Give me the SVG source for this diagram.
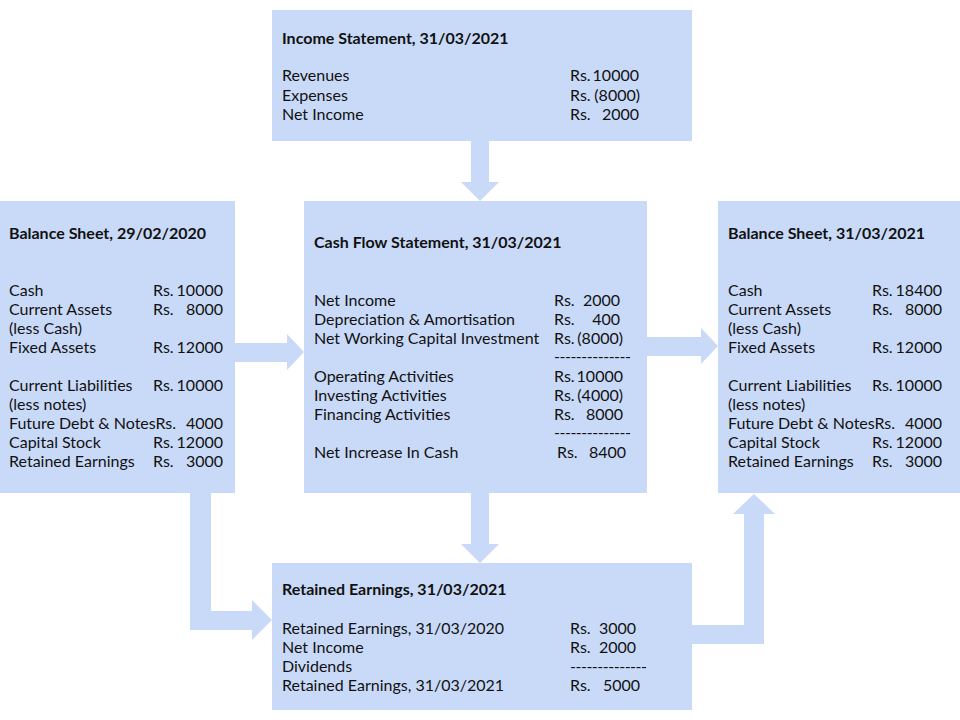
<svg xmlns="http://www.w3.org/2000/svg" width="960" height="720" viewBox="0 0 960 720">
<style>
.box{fill:#c9daf8;}
.arr{fill:#c9daf8;}
text{font-family:Lato,"Open Sans","Liberation Sans",sans-serif;font-size:16px;fill:#111;}
.t{font-weight:bold;}
.r{text-anchor:end;}
</style>
<rect x="0" y="0" width="960" height="720" fill="#fff"/>
<g id="connectors">
<polygon class="arr" points="471,141 489,141 489,182 499,182 480,201 461,182 471,182"/>
<polygon class="arr" points="471,493 489,493 489,544 499,544 480,563 461,544 471,544"/>
<polygon class="arr" points="235,343 287,343 287,334 304,352 287,370 287,362 235,362"/>
<polygon class="arr" points="647,337 701,337 701,328 718,346 701,364 701,356 647,356"/>
<polygon class="arr" points="190,493 211,493 211,611 252,611 252,600 272,620 252,640 252,630 190,630"/>
<polygon class="arr" points="692,625 744,625 744,514 733,514 754,494 775,514 764,514 764,644 692,644"/>
</g>
<g id="income">
<rect class="box" x="272" y="10" width="420" height="131"/>
<text class="t" x="282" y="44">Income Statement, 31/03/2021</text>
<text x="282" y="81">Revenues</text>
<text x="282" y="101">Expenses</text>
<text x="282" y="120">Net Income</text>
<text x="570" y="81">Rs.</text><text class="r" x="639" y="81">10000</text>
<text x="570" y="101">Rs.</text><text class="r" x="640" y="101">(8000)</text>
<text x="570" y="120">Rs.</text><text class="r" x="639" y="120">2000</text>
</g>
<g id="bs2020">
<rect class="box" x="0" y="201" width="235" height="292"/>
<text class="t" x="9" y="239">Balance Sheet, 29/02/2020</text>
<text x="9" y="296">Cash</text>
<text x="9" y="315">Current Assets</text>
<text x="9" y="334">(less Cash)</text>
<text x="9" y="353">Fixed Assets</text>
<text x="9" y="391">Current Liabilities</text>
<text x="9" y="410">(less notes)</text>
<text x="9" y="429">Future Debt &amp; NotesRs.</text>
<text x="9" y="448">Capital Stock</text>
<text x="9" y="467">Retained Earnings</text>
<text x="153" y="296">Rs.</text><text class="r" x="223" y="296">10000</text>
<text x="153" y="315">Rs.</text><text class="r" x="223" y="315">8000</text>
<text x="153" y="353">Rs.</text><text class="r" x="223" y="353">12000</text>
<text x="153" y="391">Rs.</text><text class="r" x="223" y="391">10000</text>
<text class="r" x="223" y="429">4000</text>
<text x="153" y="448">Rs.</text><text class="r" x="223" y="448">12000</text>
<text x="153" y="467">Rs.</text><text class="r" x="223" y="467">3000</text>
</g>
<g id="cashflow">
<rect class="box" x="304" y="201" width="343" height="292"/>
<text class="t" x="314" y="248">Cash Flow Statement, 31/03/2021</text>
<text x="314" y="306">Net Income</text>
<text x="314" y="325">Depreciation &amp; Amortisation</text>
<text x="314" y="344">Net Working Capital Investment</text>
<text x="554" y="362" textLength="77" lengthAdjust="spacing">--------------</text>
<text x="314" y="382">Operating Activities</text>
<text x="314" y="401">Investing Activities</text>
<text x="314" y="420">Financing Activities</text>
<text x="554" y="438" textLength="77" lengthAdjust="spacing">--------------</text>
<text x="314" y="458">Net Increase In Cash</text>
<text x="554" y="306">Rs.</text><text class="r" x="620" y="306">2000</text>
<text x="554" y="325">Rs.</text><text class="r" x="620" y="325">400</text>
<text x="554" y="344">Rs.</text><text class="r" x="623" y="344">(8000)</text>
<text x="554" y="382">Rs.</text><text class="r" x="623" y="382">10000</text>
<text x="554" y="401">Rs.</text><text class="r" x="623" y="401">(4000)</text>
<text x="554" y="420">Rs.</text><text class="r" x="623" y="420">8000</text>
<text x="557" y="458">Rs.</text><text class="r" x="626" y="458">8400</text>
</g>
<g id="bs2021">
<rect class="box" x="718" y="201" width="242" height="292"/>
<text class="t" x="728" y="239">Balance Sheet, 31/03/2021</text>
<text x="728" y="296">Cash</text>
<text x="728" y="315">Current Assets</text>
<text x="728" y="334">(less Cash)</text>
<text x="728" y="353">Fixed Assets</text>
<text x="728" y="391">Current Liabilities</text>
<text x="728" y="410">(less notes)</text>
<text x="728" y="429">Future Debt &amp; NotesRs.</text>
<text x="728" y="448">Capital Stock</text>
<text x="728" y="467">Retained Earnings</text>
<text x="872" y="296">Rs.</text><text class="r" x="942" y="296">18400</text>
<text x="872" y="315">Rs.</text><text class="r" x="942" y="315">8000</text>
<text x="872" y="353">Rs.</text><text class="r" x="942" y="353">12000</text>
<text x="872" y="391">Rs.</text><text class="r" x="942" y="391">10000</text>
<text class="r" x="942" y="429">4000</text>
<text x="872" y="448">Rs.</text><text class="r" x="942" y="448">12000</text>
<text x="872" y="467">Rs.</text><text class="r" x="942" y="467">3000</text>
</g>
<g id="retained">
<rect class="box" x="272" y="563" width="420" height="147"/>
<text class="t" x="282" y="595">Retained Earnings, 31/03/2021</text>
<text x="282" y="634">Retained Earnings, 31/03/2020</text>
<text x="282" y="653">Net Income</text>
<text x="282" y="672">Dividends</text>
<text x="282" y="691">Retained Earnings, 31/03/2021</text>
<text x="570" y="634">Rs.</text><text class="r" x="636" y="634">3000</text>
<text x="570" y="653">Rs.</text><text class="r" x="636" y="653">2000</text>
<text x="570" y="672" textLength="77" lengthAdjust="spacing">--------------</text>
<text x="570" y="691">Rs.</text><text class="r" x="640" y="691">5000</text>
</g>
</svg>
